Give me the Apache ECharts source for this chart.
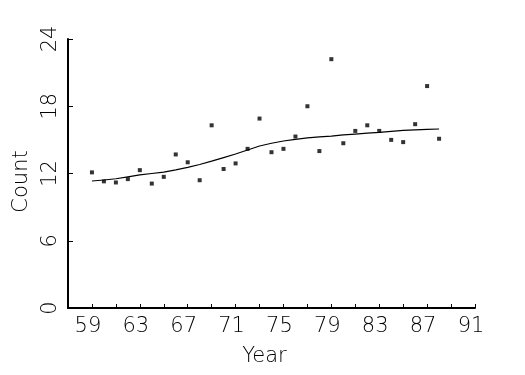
<!DOCTYPE html>
<html>
<head>
<meta charset="utf-8">
<script src="https://cdn.jsdelivr.net/npm/echarts@6/dist/echarts.min.js"></script>
<style>html,body{margin:0;padding:0;background:#fff;}#c{width:525px;height:375px;}</style>
</head>
<body>
<div id="c"></div>
<script>
var years = [59,60,61,62,63,64,65,66,67,68,69,70,71,72,73,74,75,76,77,78,79,80,81,82,83,84,85,86,87,88];
var counts = [12.1,11.3,11.2,11.5,12.3,11.1,11.7,13.7,13.0,11.4,16.3,12.4,12.9,14.2,16.9,13.9,14.2,15.3,18.0,14.0,22.2,14.7,15.8,16.3,15.8,15.0,14.8,16.4,19.8,15.1];
var smoothFit = [11.33,11.42,11.53,11.7,11.87,12.0,12.13,12.33,12.55,12.8,13.1,13.42,13.74,14.1,14.45,14.7,14.9,15.05,15.17,15.27,15.34,15.44,15.52,15.6,15.67,15.76,15.84,15.9,15.94,15.97];
var xTickLabels = [59,63,67,71,75,79,83,87,91];
var yTickLabels = [0,6,12,18,24];

var FONT = 'DejaVu Sans';
var chart = echarts.init(document.getElementById('c'), null, {renderer:'canvas'});
chart.setOption({
  animation: false,
  backgroundColor: '#fff',
  grid: {left: 68, right: 50, top: 39, bottom: 67},
  xAxis: {
    type: 'value', min: 57, max: 91, interval: 2,
    name: 'Year', nameLocation: 'middle', nameGap: 38,
    nameTextStyle: {fontFamily: FONT, fontWeight: 200, fontSize: 21, color: '#000', padding: [0, 14, 0, 0]},
    axisLine: {show: true, lineStyle: {color: '#000', width: 2}},
    axisTick: {show: true, inside: true, length: 4, lineStyle: {color: '#000', width: 1}},
    splitLine: {show: false},
    axisLabel: {
      margin: 8, fontFamily: FONT, fontWeight: 200, fontSize: 21, color: '#000',
      padding: [0, 8, 0, 0],
      formatter: function (v) { return xTickLabels.indexOf(v) >= 0 ? String(v) : ''; }
    }
  },
  yAxis: {
    type: 'value', min: 0, max: 24, interval: 6,
    name: 'Count', nameLocation: 'middle', nameGap: 30,
    nameTextStyle: {fontFamily: FONT, fontWeight: 200, fontSize: 21, color: '#000', padding: [0, 16, 0, 0]},
    axisLine: {show: true, lineStyle: {color: '#000', width: 2}},
    axisTick: {show: true, inside: true, length: 5, lineStyle: {color: '#000', width: 1}},
    splitLine: {show: false},
    axisLabel: {
      margin: 7, rotate: 90, fontFamily: FONT, fontWeight: 200, fontSize: 21, color: '#000',
      formatter: function (v) { return yTickLabels.indexOf(v) >= 0 ? String(v) : ''; }
    }
  },
  series: [
    {
      type: 'scatter', symbol: 'rect', symbolSize: 4,
      itemStyle: {color: '#000'},
      data: years.map(function (y, i) { return [y, counts[i]]; })
    },
    {
      type: 'line', showSymbol: false, smooth: false,
      lineStyle: {color: '#000', width: 1.2},
      data: years.map(function (y, i) { return [y, smoothFit[i]]; })
    }
  ]
});
</script>
</body>
</html>
